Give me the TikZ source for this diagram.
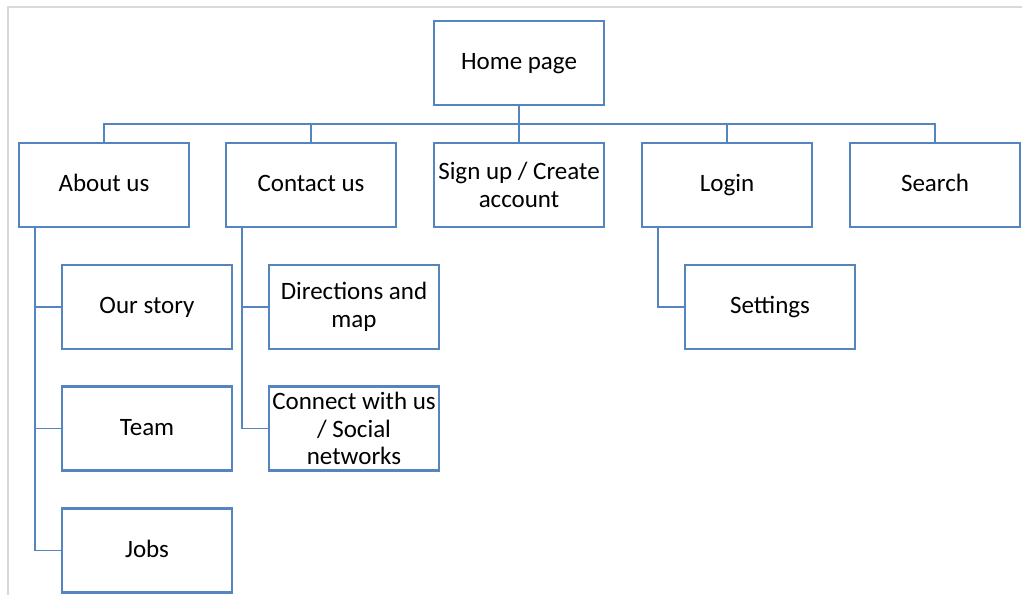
\documentclass[tikz,border=0pt]{standalone}
\usepackage{fontspec}
\setmainfont{Carlito}
\usepackage{tikz}
\usetikzlibrary{positioning,calc}
\definecolor{boxblue}{RGB}{84,133,192}
\definecolor{framegray}{RGB}{217,217,217}

\begin{document}
\begin{tikzpicture}[x=0.5pt,y=-0.5pt,
  font=\fontsize{12.5}{13.8}\selectfont,
  page/.style={draw=boxblue,line width=1.2pt,fill=white,minimum width=85pt,minimum height=42pt,inner sep=1pt,align=center},
  oneline/.style={page,text height=1.6ex,text depth=0.2ex},
  link/.style={draw=boxblue,line width=0.75pt}]
\useasboundingbox (0,0) rectangle (1022,595);
\draw[framegray,line width=0.6pt] (1022,7)--(8,7)--(8,595);
% Top level
\node[oneline] (home) at (519,63) {Home page};
\coordinate (bus) at (519,124);
% Second level
\node[oneline] (about) at (104,185) {About us};
\node[oneline] (contact) at (311,185) {Contact us};
\node[page] (signup) at (519,185) {Sign up / Create\\account};
\node[oneline] (login) at (727,185) {Login};
\node[oneline] (search) at (935,185) {Search};
\foreach \n in {about,contact,signup,login,search}
  \draw[link] (home.south) |- (\n.north |- bus) -- (\n.north);
% Sub pages
\node[oneline] (story) at (147,307) {Our story};
\node[oneline] (team) at (147,428.5) {Team};
\node[oneline] (jobs) at (147,550.5) {Jobs};
\node[page] (directions) at (354,307) {Directions and\\map};
\node[page] (connect) at (354,428.5) {Connect with us\\/ Social\\networks};
\node[oneline] (settings) at (770,307) {Settings};
\foreach \n in {story,team,jobs}
  \draw[link] ([xshift=8.5pt]about.south west) |- (\n.west);
\foreach \n in {directions,connect}
  \draw[link] ([xshift=8.5pt]contact.south west) |- (\n.west);
\draw[link] ([xshift=8.5pt]login.south west) |- (settings.west);
\end{tikzpicture}
\end{document}
